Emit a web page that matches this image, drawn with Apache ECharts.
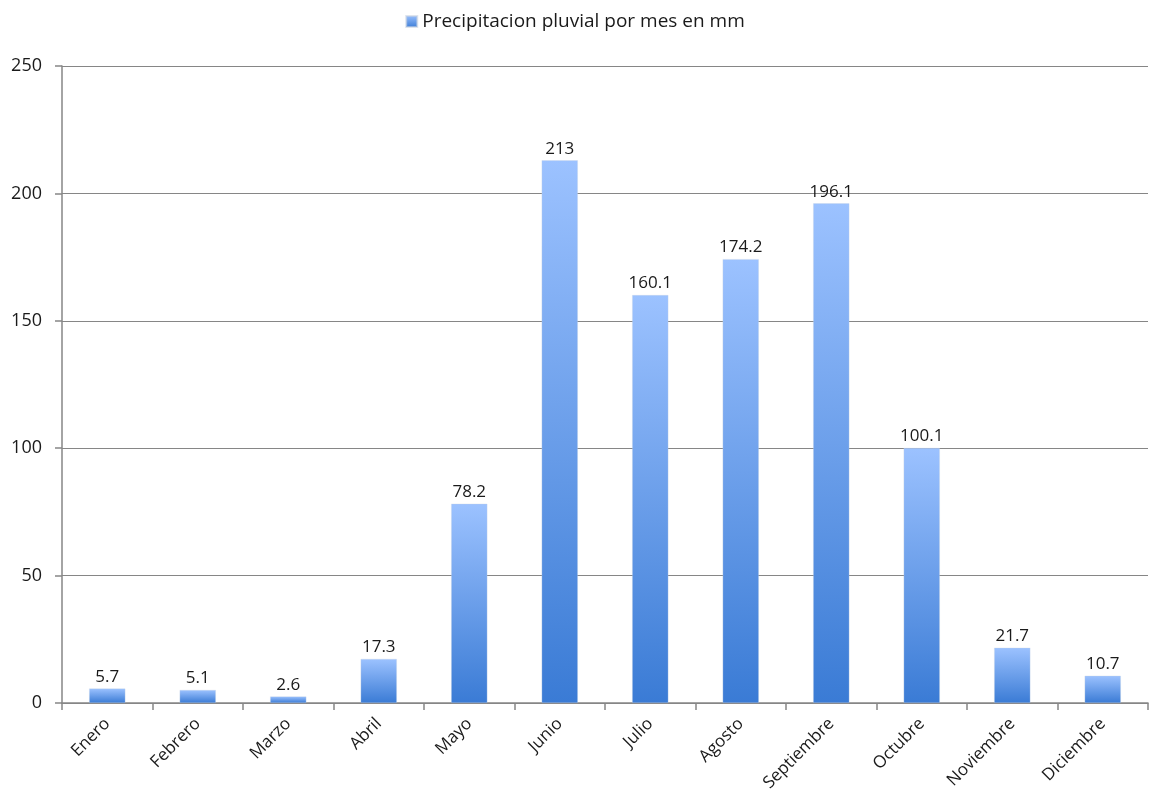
<!DOCTYPE html>
<html>
<head>
<meta charset="utf-8">
<script src="https://cdn.jsdelivr.net/npm/echarts@6/dist/echarts.min.js"></script>
<style>
  html, body { margin: 0; padding: 0; background: #ffffff; }
  #chart { width: 1150px; height: 796px; }
</style>
</head>
<body>
<div id="chart"></div>
<script>
// Monthly rainfall (mm)
const months = ['Enero', 'Febrero', 'Marzo', 'Abril', 'Mayo', 'Junio', 'Julio', 'Agosto', 'Septiembre', 'Octubre', 'Noviembre', 'Diciembre'];
const rainfall = [5.7, 5.1, 2.6, 17.3, 78.2, 213, 160.1, 174.2, 196.1, 100.1, 21.7, 10.7];
const seriesName = 'Precipitacion pluvial por mes en mm';

const font = 'Open Sans, Liberation Sans, sans-serif';
const axisGray = '#868686';
const textColor = '#1a1a1a';

const chart = echarts.init(document.getElementById('chart'));
chart.setOption({
  animation: false,
  textStyle: { fontFamily: font },
  legend: {
    top: 7,
    left: 'center',
    itemWidth: 11,
    itemHeight: 11,
    itemGap: 6,
    textStyle: { fontSize: 19, color: textColor, fontFamily: font },
    data: [{ name: seriesName, icon: 'rect' }]
  },
  grid: { left: 62, right: 2, top: 66, bottom: 93, containLabel: false },
  xAxis: {
    type: 'category',
    data: months,
    axisLine: { lineStyle: { color: axisGray, width: 1.5 } },
    axisTick: { show: true, length: 7, lineStyle: { color: axisGray, width: 1.5 } },
    axisLabel: { rotate: 45, fontSize: 17, color: textColor, margin: 18, fontFamily: font, interval: 0 }
  },
  yAxis: {
    type: 'value',
    min: 0,
    max: 250,
    interval: 50,
    axisLine: { show: true, lineStyle: { color: axisGray, width: 1.5 } },
    axisTick: { show: true, length: 7, lineStyle: { color: axisGray, width: 1.5 } },
    axisLabel: { fontSize: 18, color: textColor, margin: 20, fontFamily: font },
    splitLine: { lineStyle: { color: axisGray, width: 1.2 } }
  },
  series: [{
    name: seriesName,
    type: 'bar',
    data: rainfall,
    barWidth: '40%',
    itemStyle: {
      color: new echarts.graphic.LinearGradient(0, 0, 0, 1, [
        { offset: 0, color: '#9cc2ff' },
        { offset: 1, color: '#3a7bd5' }
      ]),
      borderColor: 'rgba(200,210,225,0.6)',
      borderWidth: 0.5
    },
    label: {
      show: true,
      position: 'top',
      distance: 3,
      fontSize: 17,
      color: textColor,
      fontFamily: font
    }
  }]
});
</script>
</body>
</html>
